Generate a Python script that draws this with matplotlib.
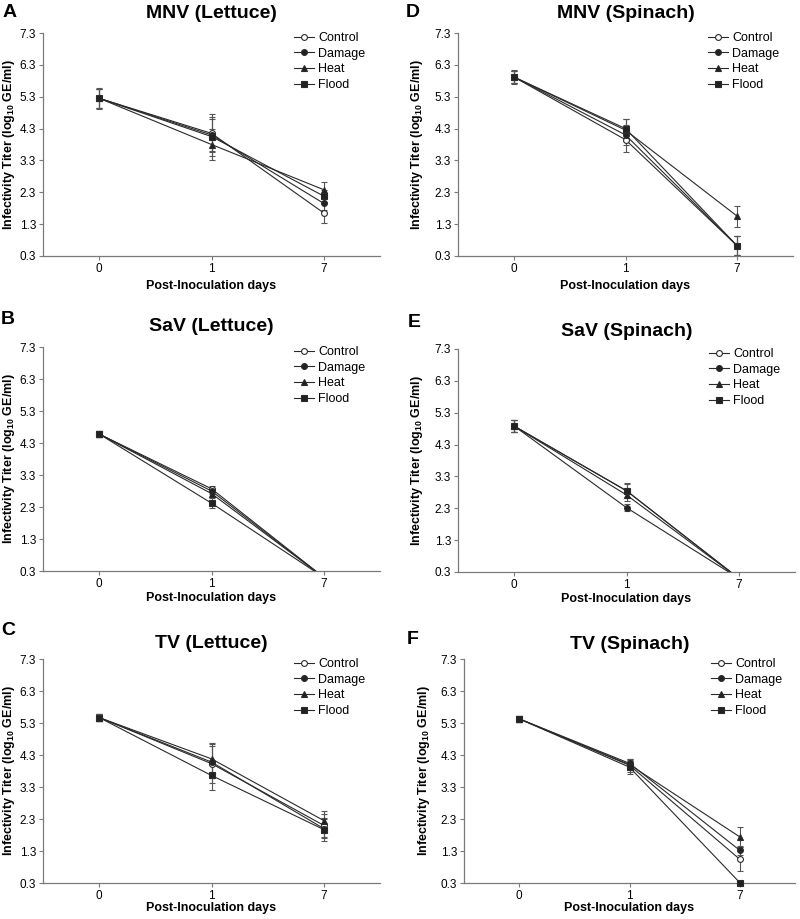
import numpy as np
import matplotlib
matplotlib.use("Agg")
import matplotlib.pyplot as plt

plt.rcParams['font.family'] = ['Liberation Sans', 'DejaVu Sans']
plt.rcParams['mathtext.fontset'] = 'custom'
plt.rcParams['mathtext.rm'] = 'Liberation Sans:bold'
plt.rcParams['mathtext.bf'] = 'Liberation Sans:bold'

# x categories (equally spaced)
days = ["0", "1", "7"]
treatments = ["Control", "Damage", "Heat", "Flood"]

# panel titles and letters
titles = ["MNV (Lettuce)", "SaV (Lettuce)", "TV (Lettuce)",
          "MNV (Spinach)", "SaV (Spinach)", "TV (Spinach)"]
letters = ["A", "B", "C", "D", "E", "F"]

# mean titers per panel: Control, Damage, Heat, Flood
mnv_lettuce = [[5.25, 4.15, 1.65], [5.25, 4.10, 1.95], [5.25, 3.80, 2.38], [5.25, 4.05, 2.18]]
sav_lettuce = [[4.58, 2.87, 0.1], [4.58, 2.80, 0.1], [4.58, 2.72, 0.1], [4.58, 2.42, 0.1]]
tv_lettuce = [[5.47, 4.03, 2.10], [5.47, 4.08, 2.00], [5.47, 4.18, 2.25], [5.47, 3.66, 1.97]]
mnv_spinach = [[5.92, 3.95, 0.62], [5.92, 4.10, 0.62], [5.92, 4.25, 1.55], [5.92, 4.30, 0.62]]
sav_spinach = [[4.88, 2.85, 0.1], [4.88, 2.32, 0.1], [4.88, 2.72, 0.1], [4.88, 2.85, 0.1]]
tv_spinach = [[5.43, 3.98, 1.04], [5.43, 4.04, 1.32], [5.43, 4.00, 1.74], [5.43, 3.92, 0.31]]

# error bars (SD)
mnv_lettuce_err = [[0.30, 0.60, 0.30], [0.30, 0.50, 0.20], [0.30, 0.50, 0.25], [0.33, 0.60, 0.20]]
sav_lettuce_err = [[0.10, 0.10, 0.0], [0.10, 0.10, 0.0], [0.10, 0.10, 0.0], [0.10, 0.15, 0.0]]
tv_lettuce_err = [[0.10, 0.60, 0.35], [0.10, 0.50, 0.30], [0.10, 0.50, 0.30], [0.10, 0.45, 0.35]]
mnv_spinach_err = [[0.20, 0.40, 0.30], [0.20, 0.30, 0.30], [0.20, 0.35, 0.33], [0.23, 0.30, 0.30]]
sav_spinach_err = [[0.20, 0.20, 0.0], [0.20, 0.12, 0.0], [0.20, 0.20, 0.0], [0.20, 0.23, 0.0]]
tv_spinach_err = [[0.10, 0.20, 0.38], [0.10, 0.15, 0.15], [0.10, 0.15, 0.30], [0.10, 0.20, 0.0]]

panel_data = [mnv_lettuce, sav_lettuce, tv_lettuce, mnv_spinach, sav_spinach, tv_spinach]
panel_err = [mnv_lettuce_err, sav_lettuce_err, tv_lettuce_err,
             mnv_spinach_err, sav_spinach_err, tv_spinach_err]

yticks = [0.3, 1.3, 2.3, 3.3, 4.3, 5.3, 6.3, 7.3]

# axes rectangles in pixels: left, top, right, bottom
W, H = 800, 919
rects = [(43, 33, 380, 256), (43, 347, 380, 571), (43, 659, 380, 883),
         (458, 33, 793, 256), (458, 349, 795, 572), (464, 659, 795, 883)]
title_off = [15, 16, 11, 15, 13, 10]
xlabel_off = [24, 21, 19, 24, 21, 19]
ylabel_off = [26, 26, 26, 33, 33, 32]
letter_pos = [(3, 4), (1, 311), (1, 622), (406, 4), (408, 314), (407, 631)]

styles = [dict(marker='o', mfc='white'), dict(marker='o', mfc='#222222'),
          dict(marker='^', mfc='#222222'), dict(marker='s', mfc='#222222')]
msizes = [4.2, 4.2, 4.6, 4.4]
ink = '#2a2a2a'
spine = '#7a7a7a'

fig = plt.figure(figsize=(W / 100, H / 100), dpi=100)

for i in range(6):
    l, t, r, b = rects[i]
    ax = fig.add_axes([l / W, 1 - b / H, (r - l) / W, (b - t) / H])
    x = np.arange(len(days))
    # SaV day-7 titers fall below the axis floor: clip them there
    clip = i in (1, 4)
    for j, name in enumerate(treatments):
        y = np.array(panel_data[i][j])
        e = np.array(panel_err[i][j])
        keep = e > 0
        ax.errorbar(x[keep], y[keep], yerr=e[keep], fmt='none',
                    ecolor='#555555', elinewidth=0.8, capsize=2.2, capthick=0.8,
                    zorder=2)
        ax.plot(x, y, color=ink, lw=0.8, ms=msizes[j],
                mec=ink, mew=0.8, label=name, clip_on=clip, zorder=3,
                **styles[j])
    ax.set_xlim(-0.5, 2.5)
    ax.set_ylim(0.3, 7.3)
    ax.set_yticks(yticks)
    ax.set_yticklabels([f"{v:.1f}" for v in yticks])
    ax.set_xticks(x)
    ax.set_xticklabels(days)
    ax.tick_params(labelsize=8.5, length=3, width=0.8, color=spine, pad=2)
    for s in ['top', 'right']:
        ax.spines[s].set_visible(False)
    for s in ['left', 'bottom']:
        ax.spines[s].set_color(spine)
        ax.spines[s].set_linewidth(0.9)
    ax.set_xlabel("Post-Inoculation days", fontsize=9, fontweight='bold')
    ax.xaxis.set_label_coords(0.5, -xlabel_off[i] / (b - t))
    ax.set_ylabel(r"Infectivity Titer (log$_{10}$ GE/ml)", fontsize=9, fontweight='bold')
    ax.yaxis.set_label_coords(-ylabel_off[i] / (r - l), 0.5)
    ax.text(0.5, 1 + title_off[i] / (b - t), titles[i], transform=ax.transAxes,
            ha='center', va='baseline', fontsize=14, fontweight='bold')
    ax.legend(loc='upper left', bbox_to_anchor=(0.745, 1.005), frameon=False,
              fontsize=9, handlelength=1.6, handletextpad=0.35,
              labelspacing=0.3, borderpad=0, borderaxespad=0)
    lx, ly = letter_pos[i]
    fig.text(lx / W, 1 - ly / H, letters[i], ha='left', va='top',
             fontsize=14, fontweight='bold')

fig.savefig("out.png", dpi=100)
